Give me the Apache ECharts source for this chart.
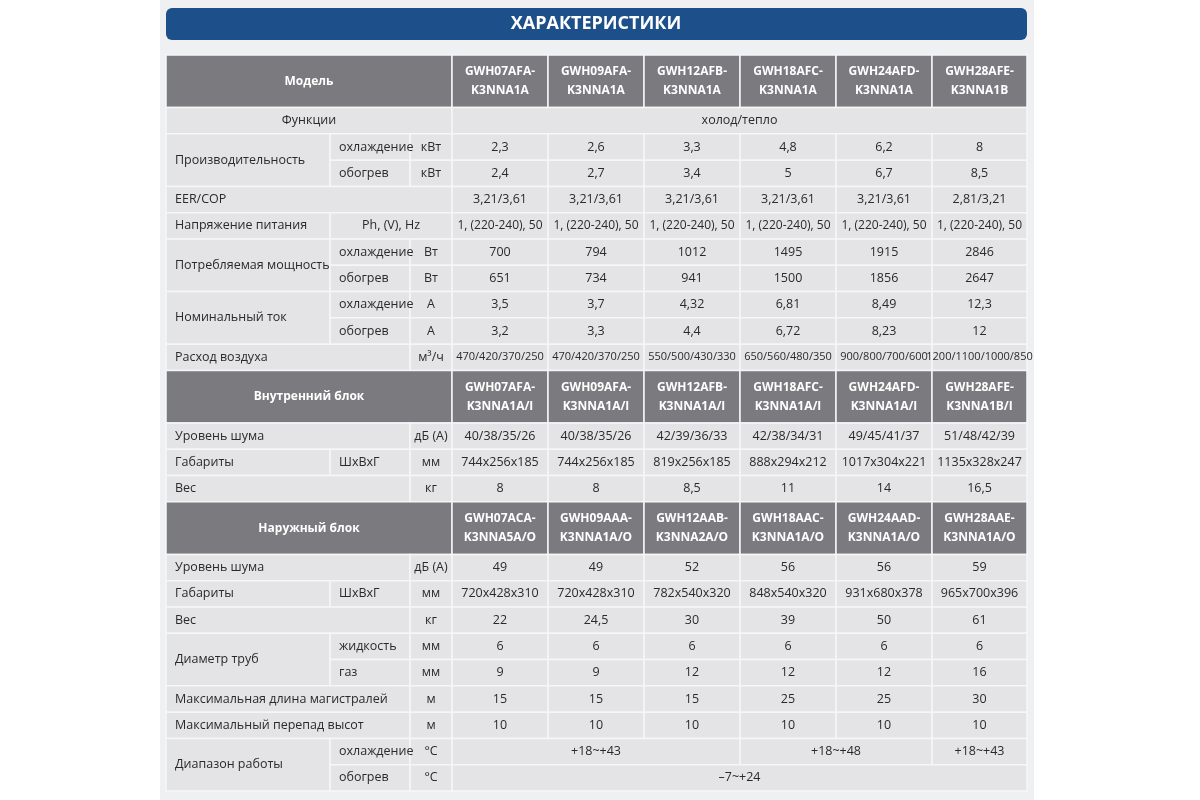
<!DOCTYPE html>
<html><head><meta charset="utf-8">
<script src="https://cdn.jsdelivr.net/npm/echarts@6/dist/echarts.min.js"></script>
<style>html,body{margin:0;background:#fff}#c{width:1200px;height:800px}</style>
</head><body><div id="c"></div>
<script>
const title = 'ХАРАКТЕРИСТИКИ';
const modelsMain = ['GWH07AFA-\nK3NNA1A','GWH09AFA-\nK3NNA1A','GWH12AFB-\nK3NNA1A','GWH18AFC-\nK3NNA1A','GWH24AFD-\nK3NNA1A','GWH28AFE-\nK3NNA1B'];
const modelsIndoor = ['GWH07AFA-\nK3NNA1A/I','GWH09AFA-\nK3NNA1A/I','GWH12AFB-\nK3NNA1A/I','GWH18AFC-\nK3NNA1A/I','GWH24AFD-\nK3NNA1A/I','GWH28AFE-\nK3NNA1B/I'];
const modelsOutdoor = ['GWH07ACA-\nK3NNA5A/O','GWH09AAA-\nK3NNA1A/O','GWH12AAB-\nK3NNA2A/O','GWH18AAC-\nK3NNA1A/O','GWH24AAD-\nK3NNA1A/O','GWH28AAE-\nK3NNA1A/O'];
const capCool = ['2,3','2,6','3,3','4,8','6,2','8'];
const capHeat = ['2,4','2,7','3,4','5','6,7','8,5'];
const eer = ['3,21/3,61','3,21/3,61','3,21/3,61','3,21/3,61','3,21/3,61','2,81/3,21'];
const volt = Array(6).fill('1, (220-240), 50');
const powCool = ['700','794','1012','1495','1915','2846'];
const powHeat = ['651','734','941','1500','1856','2647'];
const curCool = ['3,5','3,7','4,32','6,81','8,49','12,3'];
const curHeat = ['3,2','3,3','4,4','6,72','8,23','12'];
const airflow = ['470/420/370/250','470/420/370/250','550/500/430/330','650/560/480/350','900/800/700/600','1200/1100/1000/850'];
const inNoise = ['40/38/35/26','40/38/35/26','42/39/36/33','42/38/34/31','49/45/41/37','51/48/42/39'];
const inDim = ['744x256x185','744x256x185','819x256x185','888x294x212','1017x304x221','1135x328x247'];
const inWeight = ['8','8','8,5','11','14','16,5'];
const outNoise = ['49','49','52','56','56','59'];
const outDim = ['720x428x310','720x428x310','782x540x320','848x540x320','931x680x378','965x700x396'];
const outWeight = ['22','24,5','30','39','50','61'];
const pipeLiq = ['6','6','6','6','6','6'];
const pipeGas = ['9','9','12','12','12','16'];
const maxLen = ['15','15','15','25','25','30'];
const maxHeight = ['10','10','10','10','10','10'];

const colEdges = [0,164,244,286,382,478,574,670,766,861];
const cells = []; // [x0,x1,y0,y1,text,kind,align,fontSize]
let y = 0;
function cell(c0,c1,y0,y1,t,k,a,s){cells.push([colEdges[c0],colEdges[c1],y0,y1,t,k||'b',a||'center',s||12.5]);}
function header(label, models){cell(0,3,y,y+2,label,'h');models.forEach((m,i)=>cell(3+i,4+i,y,y+2,m,'h'));y+=2;}
function dataRow(vals,s){vals.forEach((v,i)=>cell(3+i,4+i,y,y+1,v,'b','center',s));}
function pair(label,sub1,sub2,unit,v1,v2){
  cell(0,1,y,y+2,label,'b','left');
  cell(1,2,y,y+1,sub1,'b','left');cell(2,3,y,y+1,unit);dataRow(v1);y++;
  cell(1,2,y,y+1,sub2,'b','left');cell(2,3,y,y+1,unit);dataRow(v2);y++;
}
function single(label,sub,unit,v){
  if(sub){cell(0,1,y,y+1,label,'b','left');cell(1,2,y,y+1,sub,'b','left');}
  else cell(0,2,y,y+1,label,'b','left');
  cell(2,3,y,y+1,unit);dataRow(v);y++;
}
header('Модель',modelsMain);
cell(0,3,y,y+1,'Функции');cell(3,9,y,y+1,'холод/тепло');y++;
pair('Производительность','охлаждение','обогрев','кВт',capCool,capHeat);
cell(0,3,y,y+1,'EER/COP','b','left');dataRow(eer);y++;
cell(0,1,y,y+1,'Напряжение питания','b','left');cell(1,3,y,y+1,'Ph, (V), Hz');dataRow(volt,12);y++;
pair('Потребляемая мощность','охлаждение','обогрев','Вт',powCool,powHeat);
pair('Номинальный ток','охлаждение','обогрев','А',curCool,curHeat);
cell(0,2,y,y+1,'Расход воздуха','b','left');cell(2,3,y,y+1,'м³/ч');dataRow(airflow,11);y++;
header('Внутренний блок',modelsIndoor);
single('Уровень шума','','дБ (А)',inNoise);
single('Габариты','ШxВxГ','мм',inDim);
single('Вес','','кг',inWeight);
header('Наружный блок',modelsOutdoor);
single('Уровень шума','','дБ (А)',outNoise);
single('Габариты','ШxВxГ','мм',outDim);
single('Вес','','кг',outWeight);
pair('Диаметр труб','жидкость','газ','мм',pipeLiq,pipeGas);
single('Максимальная длина магистралей','','м',maxLen);
single('Максимальный перепад высот','','м',maxHeight);
cell(0,1,y,y+2,'Диапазон работы','b','left');
cell(1,2,y,y+1,'охлаждение','b','left');cell(2,3,y,y+1,'°C');
cell(3,6,y,y+1,'+18~+43');cell(6,8,y,y+1,'+18~+48');cell(8,9,y,y+1,'+18~+43');y++;
cell(1,2,y,y+1,'обогрев','b','left');cell(2,3,y,y+1,'°C');cell(3,9,y,y+1,'–7~+24');y++;
const totalRows = y;

const chart = echarts.init(document.getElementById('c'));
chart.setOption({
  backgroundColor:'#fff',
  graphic:[
    {type:'rect',shape:{x:160,y:0,width:874,height:800},style:{fill:'#eef0f2'},z:-10},
    {type:'rect',shape:{x:166,y:8,width:861,height:32,r:6},style:{fill:'#1d4f8a'}},
    {type:'text',x:596,y:24,style:{text:title,fill:'#fff',font:'bold 18px "Open Sans", sans-serif',align:'center',verticalAlign:'middle'}}
  ],
  grid:{left:166,right:173,top:55,bottom:9},
  xAxis:{type:'value',min:0,max:861,show:false},
  yAxis:{type:'value',min:0,max:totalRows,inverse:true,show:false},
  series:[{
    type:'custom',
    clip:false,
    data:cells,
    encode:{x:[0,1],y:[2,3]},
    renderItem:function(params,api){
      const p0=api.coord([api.value(0),api.value(2)]);
      const p1=api.coord([api.value(1),api.value(3)]);
      const d=cells[params.dataIndex];
      const hdr=d[5]==='h';
      const w=p1[0]-p0[0],h=p1[1]-p0[1];
      const tx=d[6]==='left'?p0[0]+9:p0[0]+w/2;
      const fs=hdr?'bold 12px':(d[7]+'px');
      return {type:'group',children:[
        {type:'rect',z2:0,shape:{x:p0[0],y:p0[1],width:w,height:h},
         style:{fill:hdr?'#7a7a7f':'#e4e4e6',stroke:'#f6f6f7',lineWidth:1.5}},
        {type:'text',z2:10,x:tx,y:p0[1]+h/2,
         style:{text:d[4],fill:hdr?'#fff':'#2a2a2a',align:d[6],verticalAlign:'middle',
           font:fs+' "Open Sans", sans-serif',lineHeight:hdr?19:16}}
      ]};
    }
  }]
});
</script></body></html>
